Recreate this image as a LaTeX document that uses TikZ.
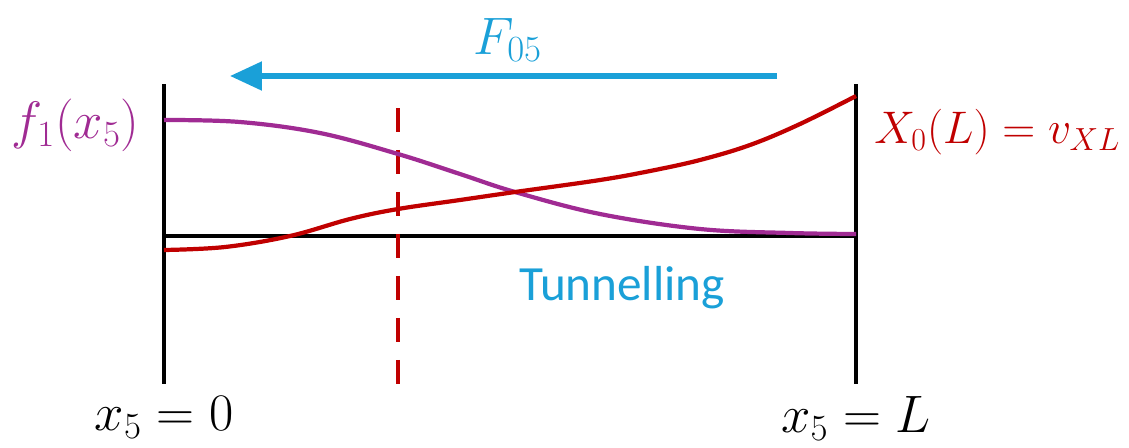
\RequirePackage{fix-cm}
\documentclass[tikz,border=0pt]{standalone}
\usepackage{fontspec}
\setmainfont{Carlito}
\usepackage{tikz}
\usetikzlibrary{positioning,arrows.meta}

\definecolor{tunnelblue}{RGB}{26,160,216}
\definecolor{fpurple}{RGB}{160,43,147}
\definecolor{xred}{RGB}{192,0,0}

\begin{document}
\begin{tikzpicture}[
    x=0.02cm, y=-0.02cm,
    wall/.style={draw=black, line width=2.8pt},
    curve/.style={line width=2.4pt},
    mathlbl/.style={font=\fontsize{30}{36}\selectfont, inner sep=0pt},
    force/.style={-{Triangle[length=0.64cm, width=0.56cm]}, draw=tunnelblue, line width=3pt}
]
\useasboundingbox (0,0) rectangle (1129,447);

% Box corners
\coordinate (tl) at (164,84);
\coordinate (bl) at (164,384);
\coordinate (tr) at (856,84);
\coordinate (br) at (856,384);
\coordinate (ml) at (164,236);
\coordinate (mr) at (856,236);

% Walls and axis
\draw[wall] (tl) -- (bl);
\draw[wall] (tr) -- (br);
\draw[wall] (ml) -- (mr);

% Barrier position
\coordinate (dtop) at (398,108);
\coordinate (dbot) at (398,384);
\draw[draw=xred, line width=2.4pt, dash pattern=on 0.48cm off 0.36cm] (dtop) -- (dbot);

% Profiles
\draw[curve, fpurple] plot[smooth, tension=0.6] coordinates
    {(164,120) (240,122) (320,133) (398,154) (460,174) (515,192) (600,214) (700,229) (790,233) (856,234)};
\draw[curve, xred] plot[smooth, tension=0.6] coordinates
    {(164,250) (225,247) (290,236) (350,219) (398,209) (460,200) (515,192) (600,180) (650,171) (700,160) (750,145) (800,124) (856,96)};

% Force arrow
\coordinate (fstart) at (777,76);
\coordinate (fend) at (230,76);
\draw[force] (fstart) -- (fend);
\node[mathlbl, text=tunnelblue] (flabel) at (508,40) {$F_{05}$};

% Labels
\node[mathlbl, text=fpurple, anchor=east] (flbl) at (140,125) {$f_1(x_5)$};
\node[mathlbl, font=\fontsize{26}{32}\selectfont, text=xred, anchor=west] (xlbl) at (874,132) {$X_0(L) = v_{XL}$};
\node[font=\fontsize{28}{34}\selectfont, text=tunnelblue, inner sep=0pt] (tunnel) at (622,288) {Tunnelling};
\node[mathlbl, below=0.25cm of bl] (left) {$x_5 = 0$};
\node[mathlbl, below=0.25cm of br] (right) {$x_5 = L$};
\end{tikzpicture}
\end{document}
